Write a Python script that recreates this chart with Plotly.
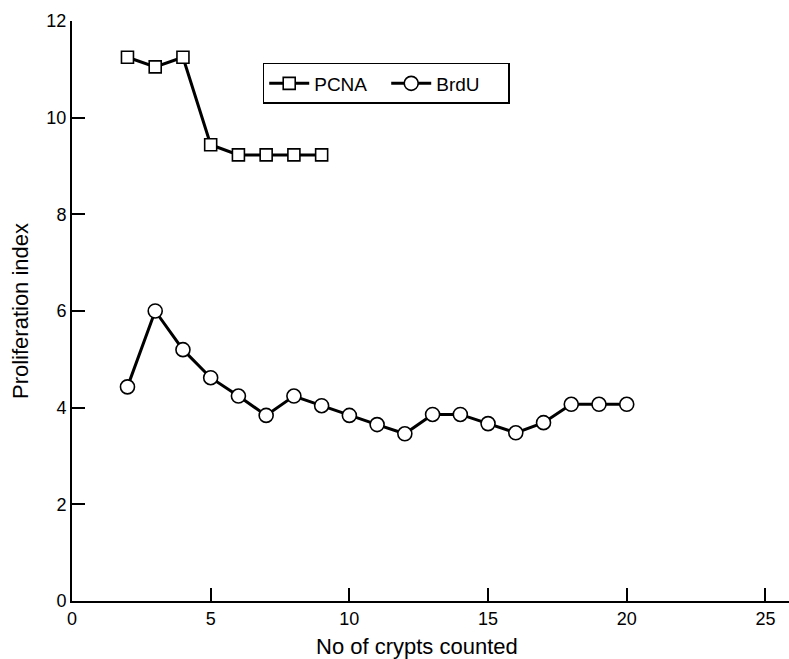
import plotly.graph_objects as go

pcna_x = [2, 3, 4, 5, 6, 7, 8, 9]
pcna_y = [11.25, 11.05, 11.25, 9.44, 9.23, 9.23, 9.23, 9.23]

brdu_x = list(range(2, 21))
brdu_y = [4.43, 6.0, 5.2, 4.62, 4.24, 3.84, 4.24, 4.04, 3.84, 3.65,
          3.46, 3.86, 3.86, 3.67, 3.48, 3.69, 4.07, 4.07, 4.07]

x_ticks = [0, 5, 10, 15, 20, 25]
y_ticks = [0, 2, 4, 6, 8, 10, 12]

FONT = "Liberation Sans, Arial, sans-serif"

fig = go.Figure()
fig.add_trace(go.Scatter(
    x=pcna_x, y=pcna_y, name="PCNA", mode="lines+markers",
    line=dict(color="black", width=3),
    marker=dict(symbol="square", size=12, color="white",
                line=dict(color="black", width=1.6)),
))
fig.add_trace(go.Scatter(
    x=brdu_x, y=brdu_y, name="BrdU", mode="lines+markers",
    line=dict(color="black", width=3),
    marker=dict(symbol="circle", size=14, color="white",
                line=dict(color="black", width=1.6)),
))

fig.update_layout(
    width=789, height=659,
    margin=dict(l=72, r=0, t=21, b=58),
    paper_bgcolor="white", plot_bgcolor="white",
    font=dict(family=FONT, size=18, color="black"),
    showlegend=True,
    legend=dict(
        x=0.266, y=0.9276, xanchor="left", yanchor="top",
        orientation="h", bordercolor="black", borderwidth=1.5,
        bgcolor="white", font=dict(size=19), itemwidth=40,
        entrywidth=67, entrywidthmode="pixels",
        tracegroupgap=0,
    ),
    xaxis=dict(
        range=[0, 25.85], tickvals=x_ticks, ticks="inside", ticklen=13,
        tickwidth=1.5, tickcolor="black", showline=True, linecolor="black",
        linewidth=2, showgrid=False, zeroline=False,
        tickfont=dict(size=18),
    ),
    yaxis=dict(
        range=[0, 12], tickvals=y_ticks, ticks="inside", ticklen=13,
        tickwidth=1.5, tickcolor="black", showline=True, linecolor="black",
        linewidth=2, showgrid=False, zeroline=False,
        tickfont=dict(size=18),
        title=dict(text="Proliferation index", font=dict(size=22), standoff=12),
    ),
    annotations=[dict(
        text="No of crypts counted", xref="x", yref="paper",
        x=12.44, y=0, yanchor="top", yshift=-31, showarrow=False,
        font=dict(size=22),
    )],
)

fig.write_html("out.html", post_script="document.body.style.margin='0';",
               config={"displayModeBar": False})
